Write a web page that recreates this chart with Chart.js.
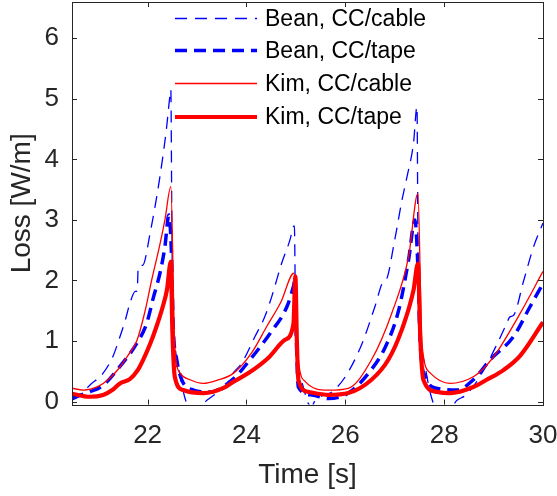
<!DOCTYPE html>
<html>
<head>
<meta charset="utf-8">
<script src="https://cdn.jsdelivr.net/npm/chart.js@4/dist/chart.umd.min.js"></script>
<style>
  html, body { margin: 0; padding: 0; background: #fff; }
  #wrap { width: 557px; height: 496px; }
</style>
</head>
<body>
<div id="wrap"><canvas id="c" width="557" height="496"></canvas></div>
<script>
// ---- data ----
const seriesNames = ['Bean, CC/cable', 'Bean, CC/tape', 'Kim, CC/cable', 'Kim, CC/tape'];
const xTickValues = [22, 24, 26, 28, 30];
const yTickValues = [0, 1, 2, 3, 4, 5, 6];

const beanCableT = [20.47, 20.6, 20.83, 21.1, 21.3, 21.44, 21.55, 21.64, 21.75, 21.79, 21.81, 21.9, 22.05, 22.25, 22.38, 22.45, 22.47,
  22.49, 22.51, 22.55, 22.62, 22.79, 22.95, 23.2, 23.4, 23.57, 23.73, 23.9, 24.17, 24.37, 24.51, 24.71, 24.88, 24.95, 24.97,
  25.0, 25.1, 25.25, 25.32, 25.39, 25.73, 26.0, 26.34, 26.6, 26.77, 26.82, 27.0, 27.14, 27.25, 27.38, 27.45,
  27.48, 27.55, 27.72, 27.85, 28.1, 28.26, 28.46, 28.8, 29.07, 29.27, 29.33, 29.4, 29.61, 29.81, 30.0];
const beanCableY = [0.02, 0.08, 0.27, 0.47, 0.75, 1.07, 1.35, 1.62, 1.82, 1.83, 2.23, 2.25, 2.78, 3.72, 4.5, 5.04, 5.15,
  3.0, 1.5, 0.95, 0.58, -0.03, -0.15, 0.02, 0.14, 0.24, 0.47, 0.63, 1.07, 1.4, 1.73, 2.28, 2.67, 2.89, 2.9,
  0.8, 0.35, -0.03, -0.08, 0.02, 0.16, 0.41, 0.96, 1.57, 1.98, 2.0, 2.67, 3.3, 3.72, 4.27, 4.87,
  1.3, 0.8, 0.14, -0.12, -0.12, 0.02, 0.12, 0.52, 0.95, 1.3, 1.4, 1.42, 2.0, 2.56, 2.95];

const beanTapeT = [20.47, 20.83, 21.1, 21.44, 21.78, 21.98, 22.12, 22.25, 22.35, 22.43, 22.48, 22.52, 22.59, 22.69, 22.93, 23.26,
  23.74, 24.07, 24.48, 24.82, 24.95, 24.98, 25.01, 25.05, 25.32, 25.66, 26.06, 26.47, 26.81, 27.08, 27.28, 27.41,
  27.47, 27.52, 27.62, 27.85, 28.26, 28.59, 28.93, 29.4, 29.74, 30.0];
const beanTapeY = [0.06, 0.16, 0.27, 0.58, 0.96, 1.29, 1.73, 2.12, 2.56, 3.08, 2.5, 1.2, 0.69, 0.36, 0.19, 0.16,
  0.38, 0.69, 1.13, 1.57, 1.9, 2.0, 1.0, 0.24, 0.11, 0.05, 0.14, 0.47, 0.9, 1.51, 2.34, 3.0,
  2.2, 0.9, 0.41, 0.22, 0.19, 0.36, 0.69, 1.07, 1.57, 1.95];

const kimCableT = [20.47, 20.7, 21.0, 21.2, 21.4, 21.6, 21.78, 21.95, 22.08, 22.25, 22.35, 22.47, 22.55, 22.66, 22.86, 23.13,
  23.4, 23.74, 24.1, 24.41, 24.7, 24.96, 25.05, 25.19, 25.66, 26.06, 26.53, 26.94, 27.28, 27.47,
  27.55, 27.72, 28.12, 28.59, 28.86, 29.07, 29.54, 30.0];
const kimCableY = [0.22, 0.19, 0.25, 0.36, 0.53, 0.76, 1.0, 1.5, 2.0, 2.6, 3.0, 3.55, 0.9, 0.47, 0.36, 0.30,
  0.35, 0.47, 0.8, 1.24, 1.65, 2.12, 0.69, 0.33, 0.19, 0.22, 0.69, 1.46, 2.39, 3.44,
  0.96, 0.47, 0.30, 0.41, 0.6, 0.82, 1.46, 2.15];

const kimTapeT = [20.47, 20.83, 21.1, 21.3, 21.44, 21.64, 21.8, 21.91, 22.05, 22.18, 22.3, 22.39, 22.47, 22.5, 22.55, 22.72,
  23.13, 23.57, 23.74, 24.04, 24.44, 24.78, 24.95, 24.99, 25.02, 25.05, 25.25, 25.66, 26.06, 26.53, 26.87, 27.14,
  27.38, 27.47, 27.52, 27.58, 27.85, 28.12, 28.59, 28.86, 29.2, 29.54, 30.0];
const kimTapeY = [0.13, 0.08, 0.11, 0.2, 0.30, 0.37, 0.52, 0.69, 0.95, 1.24, 1.55, 1.84, 2.31, 1.2, 0.41, 0.19,
  0.14, 0.24, 0.33, 0.47, 0.72, 1.02, 1.28, 2.07, 1.0, 0.36, 0.16, 0.11, 0.14, 0.36, 0.69, 1.18,
  1.84, 2.28, 1.0, 0.36, 0.16, 0.14, 0.24, 0.36, 0.52, 0.76, 1.31];

// ---- styling ----
const FONT = '"Liberation Sans", Arial, Helvetica, sans-serif';
const AXIS_COLOR = '#262626';
const styles = [
  { color: '#0000ff', width: 1.3, dash: [12, 8] },
  { color: '#0000ff', width: 3.5, dash: [12, 7] },
  { color: '#ff0000', width: 1.3, dash: [] },
  { color: '#ff0000', width: 4.2, dash: [] }
];
const seriesT = [beanCableT, beanTapeT, kimCableT, kimTapeT];
const seriesY = [beanCableY, beanTapeY, kimCableY, kimTapeY];

const datasets = seriesNames.map((name, i) => ({
  label: name,
  data: seriesT[i].map((t, k) => ({ x: t, y: seriesY[i][k] })),
  borderColor: styles[i].color,
  borderWidth: styles[i].width,
  borderDash: styles[i].dash,
  pointRadius: 0,
  fill: false,
  tension: 0,
  cubicInterpolationMode: 'monotone',
  order: 4 - i
}));

// box + inward ticks (MATLAB style)
const boxPlugin = {
  id: 'box',
  afterDatasetsDraw(chart) {
    const { ctx, chartArea: a, scales } = chart;
    ctx.save();
    ctx.strokeStyle = AXIS_COLOR;
    ctx.lineWidth = 1;
    ctx.setLineDash([]);
    ctx.strokeRect(Math.round(a.left) + 0.5, Math.round(a.top) + 0.5, Math.round(a.right - a.left), Math.round(a.bottom - a.top));
    const L = 5;
    ctx.beginPath();
    xTickValues.forEach(v => {
      const px = Math.round(scales.x.getPixelForValue(v)) + 0.5;
      ctx.moveTo(px, a.bottom); ctx.lineTo(px, a.bottom - L);
      ctx.moveTo(px, a.top); ctx.lineTo(px, a.top + L);
    });
    yTickValues.forEach(v => {
      const py = Math.round(scales.y.getPixelForValue(v)) + 0.5;
      ctx.moveTo(a.left, py); ctx.lineTo(a.left + L, py);
      ctx.moveTo(a.right, py); ctx.lineTo(a.right - L, py);
    });
    ctx.stroke();
    ctx.restore();
  }
};

// legend drawn inside the axes
const legendPlugin = {
  id: 'mlegend',
  afterDraw(chart) {
    const { ctx } = chart;
    ctx.save();
    const x0 = 175, x1 = 257, tx = 265;
    const rows = [18.5, 50.5, 83.5, 117];
    ctx.font = '23px ' + FONT;
    ctx.textBaseline = 'middle';
    ctx.textAlign = 'left';
    seriesNames.forEach((name, i) => {
      const y = rows[i];
      ctx.strokeStyle = styles[i].color;
      ctx.lineWidth = styles[i].width;
      ctx.setLineDash(styles[i].dash);
      ctx.beginPath();
      ctx.moveTo(x0, y); ctx.lineTo(x1, y);
      ctx.stroke();
      ctx.setLineDash([]);
      ctx.fillStyle = '#000';
      ctx.fillText(name, tx, y + 1);
    });
    ctx.restore();
  }
};

new Chart(document.getElementById('c'), {
  type: 'line',
  data: { datasets },
  options: {
    responsive: false,
    animation: false,
    devicePixelRatio: 1,
    layout: { padding: { top: 2, right: 14, left: 0, bottom: 0 } },
    plugins: { legend: { display: false }, tooltip: { enabled: false } },
    scales: {
      x: {
        type: 'linear',
        min: 20.47,
        max: 30,
        grid: { display: false, drawTicks: false },
        border: { display: false },
        ticks: { font: { family: FONT, size: 26 }, color: AXIS_COLOR, padding: 16, maxRotation: 0, autoSkip: false },
        afterBuildTicks: s => { s.ticks = xTickValues.map(v => ({ value: v })); },
        afterFit: s => { s.height = 91.4; s.paddingLeft = 0; s.paddingRight = 0; },
        title: { display: true, text: 'Time [s]', font: { family: FONT, size: 28 }, color: AXIS_COLOR, padding: { top: 0, bottom: 4 } }
      },
      y: {
        type: 'linear',
        min: -0.05,
        max: 6.6,
        grid: { display: false, drawTicks: false },
        border: { display: false },
        ticks: { font: { family: FONT, size: 26 }, color: AXIS_COLOR, padding: 13, autoSkip: false },
        afterBuildTicks: s => { s.ticks = yTickValues.map(v => ({ value: v })); },
        afterFit: s => { s.width = 72; s.paddingTop = 0; s.paddingBottom = 0; },
        title: { display: true, text: 'Loss [W/m]', font: { family: FONT, size: 28 }, color: AXIS_COLOR, padding: { top: 5, bottom: 0 } }
      }
    }
  },
  plugins: [boxPlugin, legendPlugin]
});
</script>
</body>
</html>
